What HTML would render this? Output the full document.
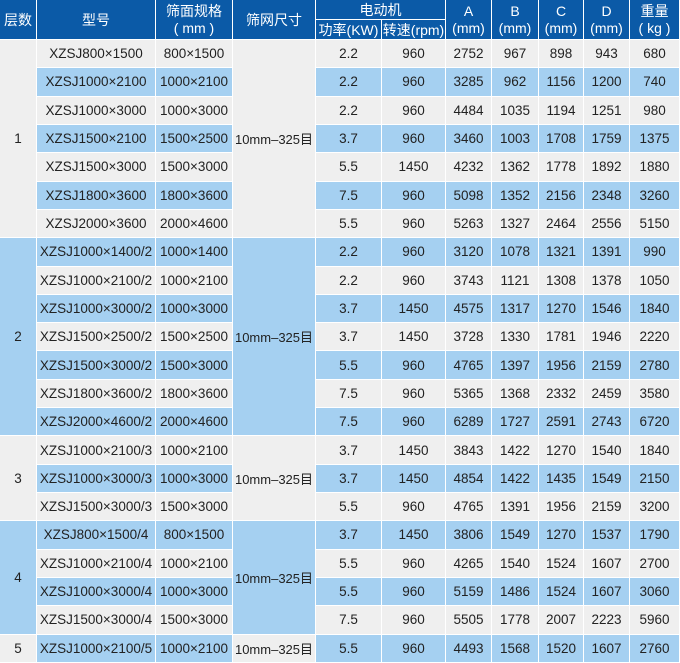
<!DOCTYPE html>
<html><head><meta charset="utf-8">
<style>
html,body{margin:0;padding:0;background:#fff;}
body{width:680px;height:663px;overflow:hidden;}
.t{display:grid;width:680px;
grid-template-columns:37px 119px 77px 83px 66px 64px 46px 47px 45px 46px 50px;
grid-template-rows:20px 20px repeat(22,28.318px);
font-family:"Liberation Sans","Noto Sans CJK SC",sans-serif;}
.t>div{box-sizing:border-box;border-right:1.5px solid #fff;border-bottom:1.5px solid #fff;
display:flex;align-items:center;justify-content:center;text-align:center;
font-size:13.5px;color:#222;white-space:nowrap;overflow:hidden;}
.t>div.h{background:#0b5aa7;color:#fff;font-size:14px;line-height:17px;padding-top:1px;}
.t>div.r2{grid-row:span 2;}
.t>div.c2{grid-column:span 2;}
.t>div.m{font-size:13px;}
.g{background:#efefef;}
.b{background:#a5d0f1;}
.s7{grid-row:span 7;}
.s3{grid-row:span 3;}
.s4{grid-row:span 4;}
</style></head><body>
<div class="t">
<div class="h r2">层数</div>
<div class="h r2">型号</div>
<div class="h r2">筛面规格<br>( mm )</div>
<div class="h r2">筛网尺寸</div>
<div class="h c2">电动机</div>
<div class="h r2">A<br>(mm)</div>
<div class="h r2">B<br>(mm)</div>
<div class="h r2">C<br>(mm)</div>
<div class="h r2">D<br>(mm)</div>
<div class="h r2">重量<br>( kg )</div>
<div class="h">功率(KW)</div>
<div class="h">转速(rpm)</div>

<!-- group 1 -->
<div class="g s7">1</div>
<div class="g">XZSJ800×1500</div><div class="g">800×1500</div>
<div class="g s7 m">10mm–325目</div>
<div class="g">2.2</div><div class="g">960</div><div class="g">2752</div><div class="g">967</div><div class="g">898</div><div class="g">943</div><div class="g">680</div>

<div class="b">XZSJ1000×2100</div><div class="b">1000×2100</div>
<div class="b">2.2</div><div class="b">960</div><div class="b">3285</div><div class="b">962</div><div class="b">1156</div><div class="b">1200</div><div class="b">740</div>

<div class="g">XZSJ1000×3000</div><div class="g">1000×3000</div>
<div class="g">2.2</div><div class="g">960</div><div class="g">4484</div><div class="g">1035</div><div class="g">1194</div><div class="g">1251</div><div class="g">980</div>

<div class="b">XZSJ1500×2100</div><div class="b">1500×2500</div>
<div class="b">3.7</div><div class="b">960</div><div class="b">3460</div><div class="b">1003</div><div class="b">1708</div><div class="b">1759</div><div class="b">1375</div>

<div class="g">XZSJ1500×3000</div><div class="g">1500×3000</div>
<div class="g">5.5</div><div class="g">1450</div><div class="g">4232</div><div class="g">1362</div><div class="g">1778</div><div class="g">1892</div><div class="g">1880</div>

<div class="b">XZSJ1800×3600</div><div class="b">1800×3600</div>
<div class="b">7.5</div><div class="b">960</div><div class="b">5098</div><div class="b">1352</div><div class="b">2156</div><div class="b">2348</div><div class="b">3260</div>

<div class="g">XZSJ2000×3600</div><div class="g">2000×4600</div>
<div class="g">5.5</div><div class="g">960</div><div class="g">5263</div><div class="g">1327</div><div class="g">2464</div><div class="g">2556</div><div class="g">5150</div>

<!-- group 2 -->
<div class="b s7">2</div>
<div class="b">XZSJ1000×1400/2</div><div class="b">1000×1400</div>
<div class="b s7 m">10mm–325目</div>
<div class="b">2.2</div><div class="b">960</div><div class="b">3120</div><div class="b">1078</div><div class="b">1321</div><div class="b">1391</div><div class="b">990</div>

<div class="g">XZSJ1000×2100/2</div><div class="g">1000×2100</div>
<div class="g">2.2</div><div class="g">960</div><div class="g">3743</div><div class="g">1121</div><div class="g">1308</div><div class="g">1378</div><div class="g">1050</div>

<div class="b">XZSJ1000×3000/2</div><div class="b">1000×3000</div>
<div class="b">3.7</div><div class="b">1450</div><div class="b">4575</div><div class="b">1317</div><div class="b">1270</div><div class="b">1546</div><div class="b">1840</div>

<div class="g">XZSJ1500×2500/2</div><div class="g">1500×2500</div>
<div class="g">3.7</div><div class="g">1450</div><div class="g">3728</div><div class="g">1330</div><div class="g">1781</div><div class="g">1946</div><div class="g">2220</div>

<div class="b">XZSJ1500×3000/2</div><div class="b">1500×3000</div>
<div class="b">5.5</div><div class="b">960</div><div class="b">4765</div><div class="b">1397</div><div class="b">1956</div><div class="b">2159</div><div class="b">2780</div>

<div class="g">XZSJ1800×3600/2</div><div class="g">1800×3600</div>
<div class="g">7.5</div><div class="g">960</div><div class="g">5365</div><div class="g">1368</div><div class="g">2332</div><div class="g">2459</div><div class="g">3580</div>

<div class="b">XZSJ2000×4600/2</div><div class="b">2000×4600</div>
<div class="b">7.5</div><div class="b">960</div><div class="b">6289</div><div class="b">1727</div><div class="b">2591</div><div class="b">2743</div><div class="b">6720</div>

<!-- group 3 -->
<div class="g s3">3</div>
<div class="g">XZSJ1000×2100/3</div><div class="g">1000×2100</div>
<div class="g s3 m">10mm–325目</div>
<div class="g">3.7</div><div class="g">1450</div><div class="g">3843</div><div class="g">1422</div><div class="g">1270</div><div class="g">1540</div><div class="g">1840</div>

<div class="b">XZSJ1000×3000/3</div><div class="b">1000×3000</div>
<div class="b">3.7</div><div class="b">1450</div><div class="b">4854</div><div class="b">1422</div><div class="b">1435</div><div class="b">1549</div><div class="b">2150</div>

<div class="g">XZSJ1500×3000/3</div><div class="g">1500×3000</div>
<div class="g">5.5</div><div class="g">960</div><div class="g">4765</div><div class="g">1391</div><div class="g">1956</div><div class="g">2159</div><div class="g">3200</div>

<!-- group 4 -->
<div class="b s4">4</div>
<div class="b">XZSJ800×1500/4</div><div class="b">800×1500</div>
<div class="b s4 m">10mm–325目</div>
<div class="b">3.7</div><div class="b">1450</div><div class="b">3806</div><div class="b">1549</div><div class="b">1270</div><div class="b">1537</div><div class="b">1790</div>

<div class="g">XZSJ1000×2100/4</div><div class="g">1000×2100</div>
<div class="g">5.5</div><div class="g">960</div><div class="g">4265</div><div class="g">1540</div><div class="g">1524</div><div class="g">1607</div><div class="g">2700</div>

<div class="b">XZSJ1000×3000/4</div><div class="b">1000×3000</div>
<div class="b">5.5</div><div class="b">960</div><div class="b">5159</div><div class="b">1486</div><div class="b">1524</div><div class="b">1607</div><div class="b">3060</div>

<div class="g">XZSJ1500×3000/4</div><div class="g">1500×3000</div>
<div class="g">7.5</div><div class="g">960</div><div class="g">5505</div><div class="g">1778</div><div class="g">2007</div><div class="g">2223</div><div class="g">5960</div>

<!-- group 5 -->
<div class="g">5</div>
<div class="b">XZSJ1000×2100/5</div><div class="b">1000×2100</div>
<div class="g m">10mm–325目</div>
<div class="b">5.5</div><div class="b">960</div><div class="b">4493</div><div class="b">1568</div><div class="b">1520</div><div class="b">1607</div><div class="b">2760</div>
</div>
</body></html>
